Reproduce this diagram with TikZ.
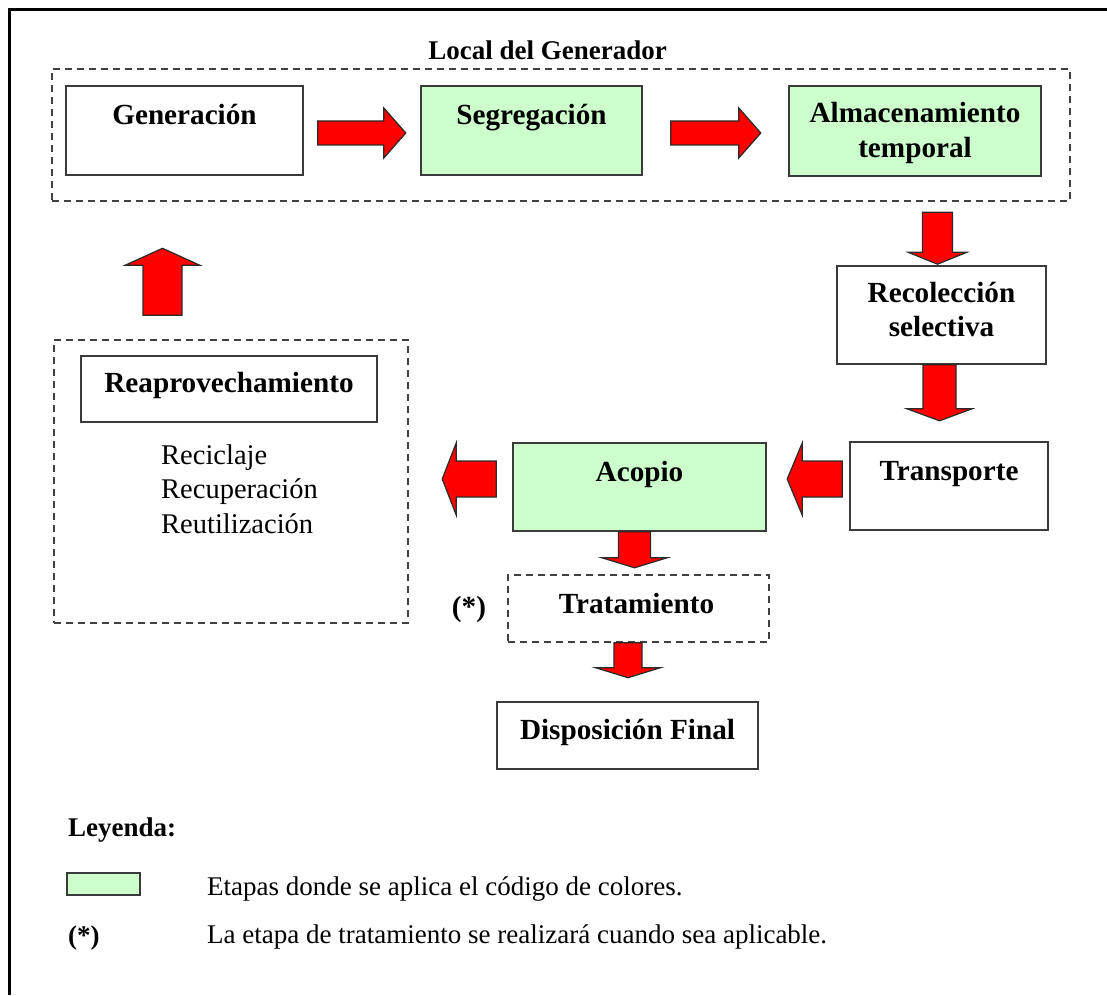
\documentclass[tikz,border=0pt]{standalone}
\usepackage{fontspec}
\setmainfont{Liberation Serif}
\usetikzlibrary{calc}
\definecolor{stagegreen}{HTML}{CCFFCC}
\definecolor{arrowred}{HTML}{FF0000}
\definecolor{arrowedge}{HTML}{2A2A2A}
\definecolor{boxgray}{HTML}{3A3A3A}
\definecolor{dashgray}{HTML}{404040}
\newcommand\stagefont{\fontsize{29.2}{34.5}\selectfont\bfseries}
\newcommand\plainfont{\fontsize{28.5}{34.5}\selectfont}
\newcommand\notefont{\fontsize{27}{32}\selectfont}
\begin{document}
\begin{tikzpicture}[x=1pt,y=-1pt,
  stagebox/.style={draw=boxgray, line width=1.6pt, rectangle, inner sep=0pt},
  stagelabel/.style={font=\stagefont, align=center, anchor=base, inner sep=0pt},
  colored/.style={fill=stagegreen},
  dashline/.style={draw=dashgray, line width=1.4pt, dash pattern=on 7pt off 5pt},
  groupbox/.style={dashline, rectangle, inner sep=0pt},
  arrowfill/.style={fill=arrowred, draw=arrowedge, line width=1.2pt, line join=miter},
  % block arrow: length, half body width, half head width, head length
  pics/blockarrow/.style n args={4}{code={
    \draw[arrowfill] (0,-#2) -- ({#1-#4},-#2) -- ({#1-#4},-#3) -- (#1,0)
      -- ({#1-#4},#3) -- ({#1-#4},#2) -- (0,#2) -- cycle;}}
]
\useasboundingbox (0,0) rectangle (1107,995);

% page frame
\draw[line width=3pt] (9,995) -- (9,10) -- (1107,10);

% groups
\node[groupbox, minimum width=1018pt, minimum height=132pt] (local) at (561,135) {};
\node[font=\fontsize{27}{30}\selectfont\bfseries, anchor=base, inner sep=0pt] (localtitle) at (547.5,60) {Local del Generador};
\node[groupbox, minimum width=354pt, minimum height=283pt] (reuse) at (231,481.5) {};

% stage boxes
\node[stagebox, minimum width=237pt, minimum height=89pt] (gen) at (184.5,130.5) {};
\node[stagebox, colored, minimum width=221pt, minimum height=89pt] (seg) at (531.5,130.5) {};
\node[stagebox, colored, minimum width=252pt, minimum height=90pt] (alm) at (915,131) {};
\node[stagebox, minimum width=209pt, minimum height=98pt] (rec) at (941.5,315) {};
\node[stagebox, minimum width=198pt, minimum height=88pt] (tra) at (949,486) {};
\node[stagebox, colored, minimum width=253pt, minimum height=88pt] (aco) at (639.5,487) {};
\node[stagebox, dashline, minimum width=261pt, minimum height=67pt] (trat) at (638.5,608.5) {};
\node[stagebox, minimum width=261pt, minimum height=67pt] (disp) at (627.5,735.5) {};
\node[stagebox, minimum width=296pt, minimum height=66pt] (reap) at (229,389) {};

% stage labels (multi-line labels sit on the baseline of their last line)
\node[stagelabel] (gen-t) at ($(gen.north)+(0,39)$) {Generación};
\node[stagelabel] (seg-t) at ($(seg.north)+(0,39)$) {Segregación};
\node[stagelabel] (alm-t) at ($(alm.north)+(0,72)$) {Almacenamiento\\temporal};
\node[stagelabel] (rec-t) at ($(rec.north)+(0,71.5)$) {Recolección\\selectiva};
\node[stagelabel] (tra-t) at ($(tra.north)+(0,39)$) {Transporte};
\node[stagelabel] (aco-t) at ($(aco.north)+(0,39)$) {Acopio};
\node[stagelabel] (trat-t) at ($(trat.north)+(-2,39)$) {Tratamiento};
\node[stagelabel] (trat-note) at (469,616) {(*)};
\node[stagelabel] (disp-t) at ($(disp.north)+(0,38.5)$) {Disposición Final};
\node[stagelabel] (reap-t) at ($(reap.north)+(0,37.5)$) {Reaprovechamiento};
\node[font=\plainfont, anchor=base west, align=left, inner sep=0pt] (items) at (161,533)
  {Reciclaje\\Recuperación\\Reutilización};

% flow arrows
\pic at ($(gen.east)+(14,2.5)$) {blockarrow={88}{12}{25}{22}};
\pic at ($(seg.east)+(28,2.5)$) {blockarrow={90}{12}{25}{22}};
\pic[rotate=-90] at ($(rec.north)+(-4,-53)$) {blockarrow={52}{15}{29.5}{12}};
\pic[rotate=-90] at ($(rec.south)+(-2,0)$) {blockarrow={56}{16.5}{32.5}{12}};
\pic[rotate=180] at ($(tra.west)+(-7,-7)$) {blockarrow={55}{18}{36}{15}};
\pic[rotate=180] at ($(aco.west)+(-16,-8)$) {blockarrow={54}{18}{36}{14}};
\pic[rotate=-90] at ($(aco.south)+(-5,0)$) {blockarrow={36}{16}{32.5}{10}};
\pic[rotate=-90] at ($(trat.south)+(-10.5,0)$) {blockarrow={35}{14}{32.5}{10}};
\pic[rotate=90] at ($(reuse.north)+(-68.5,-24)$) {blockarrow={67}{19.5}{37.5}{17}};

% legend
\node[font=\fontsize{27}{30}\selectfont\bfseries, anchor=base west, inner sep=0pt] (legtitle) at (68,836) {Leyenda:};
\node[draw=boxgray, line width=1.6pt, colored, minimum width=73pt, minimum height=22pt, inner sep=0pt] (swatch) at (103.5,884) {};
\node[font=\notefont, anchor=base west, inner sep=0pt] (legcolor) at (207,895) {Etapas donde se aplica el código de colores.};
\node[font=\fontsize{27}{30}\selectfont\bfseries, anchor=base west, inner sep=0pt] (legmark) at (68,944) {(*)};
\node[font=\notefont, anchor=base west, inner sep=0pt] (legnote) at (207,943) {La etapa de tratamiento se realizará cuando sea aplicable.};
\end{tikzpicture}
\end{document}
